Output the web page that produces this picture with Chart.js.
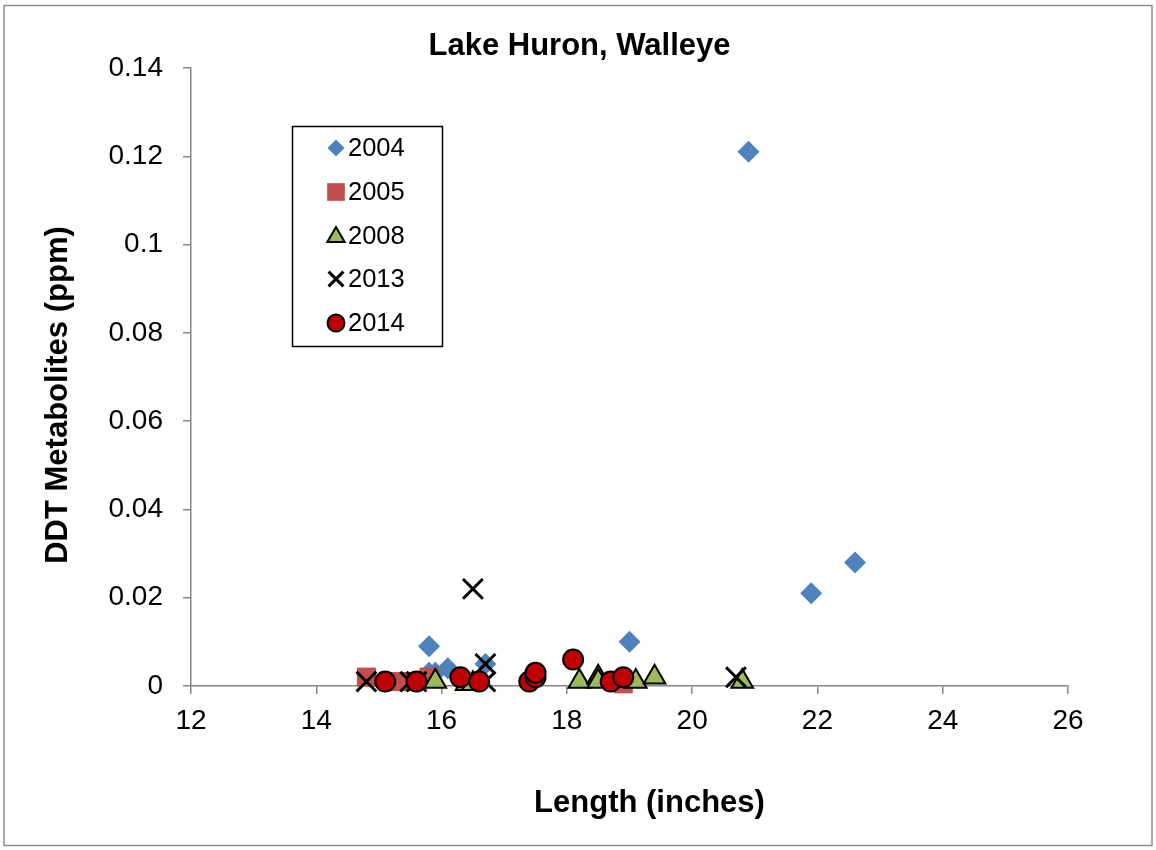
<!DOCTYPE html>
<html>
<head>
<meta charset="utf-8">
<script src="https://cdn.jsdelivr.net/npm/chart.js@4.4.1/dist/chart.umd.min.js"></script>
<style>
html,body{margin:0;padding:0;background:#fff;}
#wrap{width:1156px;height:850px;position:relative;}
</style>
</head>
<body>
<div id="wrap"><canvas id="c" width="1156" height="850"></canvas></div>
<script>
// ---- data ----
const seriesNames = ['2004', '2005', '2008', '2013', '2014'];
const x2004 = [15.8, 15.8, 15.9, 16.1, 16.7, 19.0, 20.9, 21.9, 22.6];
const y2004 = [0.009, 0.003, 0.003, 0.004, 0.005, 0.010, 0.121, 0.021, 0.028];
const x2005 = [14.8, 15.3, 15.5, 15.8, 18.9];
const y2005 = [0.002, 0.001, 0.001, 0.002, 0.0005];
const x2008 = [15.9, 16.4, 16.5, 18.2, 18.5, 18.5, 19.1, 19.4, 20.8];
const y2008 = [0.001, 0.0005, 0.0005, 0.001, 0.002, 0.001, 0.001, 0.002, 0.001];
const x2013 = [14.8, 15.5, 15.6, 16.5, 16.7, 16.7, 20.7];
const y2013 = [0.001, 0.001, 0.001, 0.022, 0.005, 0.001, 0.002];
const x2014 = [15.1, 15.6, 16.3, 16.6, 17.4, 17.5, 17.5, 18.1, 18.7, 18.9];
const y2014 = [0.001, 0.001, 0.002, 0.001, 0.001, 0.002, 0.003, 0.006, 0.001, 0.002];
const xTickLabels = ['12', '14', '16', '18', '20', '22', '24', '26'];
const yTickLabels = ['0', '0.02', '0.04', '0.06', '0.08', '0.1', '0.12', '0.14'];
const chartTitle = 'Lake Huron, Walleye';
const xTitle = 'Length (inches)';
const yTitle = 'DDT Metabolites (ppm)';

const pts = (xs, ys) => xs.map((x, i) => ({x: x, y: ys[i]}));
const FONT = "'Liberation Sans', Arial, sans-serif";

const styles = [
  {pointStyle: 'rectRot', radius: 11, bg: '#4F81BD', border: '#4F81BD', bw: 0},
  {pointStyle: 'rect', radius: 13.5, bg: '#C0504D', border: '#C0504D', bw: 0},
  {pointStyle: 'triangle', radius: 12.5, bg: '#9BBB59', border: '#000000', bw: 2},
  {pointStyle: 'crossRot', radius: 14, bg: '#000000', border: '#000000', bw: 3},
  {pointStyle: 'circle', radius: 10, bg: '#C00000', border: '#000000', bw: 2}
];
const dataSets = [pts(x2004, y2004), pts(x2005, y2005), pts(x2008, y2008), pts(x2013, y2013), pts(x2014, y2014)];

const datasets = dataSets.map((d, i) => ({
  label: seriesNames[i],
  data: d,
  order: 5 - i,
  clip: false,
  pointStyle: styles[i].pointStyle,
  pointRadius: styles[i].radius,
  pointHoverRadius: styles[i].radius,
  backgroundColor: styles[i].bg,
  borderColor: styles[i].border,
  pointBorderWidth: styles[i].bw,
  borderWidth: styles[i].bw,
  showLine: false
}));

const framePlugin = {
  id: 'frame',
  beforeDraw(chart) {
    const ctx = chart.ctx;
    ctx.save();
    ctx.fillStyle = '#ffffff';
    ctx.fillRect(0, 0, chart.width, chart.height);
    ctx.strokeStyle = '#8c8c8c';
    ctx.lineWidth = 1.5;
    ctx.strokeRect(4, 5.5, 1148, 840);
    ctx.restore();
  }
};

// chart title and axis titles placed like the original (offset from the plot centre)
const titlesPlugin = {
  id: 'titles',
  afterDraw(chart) {
    const ctx = chart.ctx;
    ctx.save();
    ctx.fillStyle = '#000000';
    ctx.textAlign = 'center';
    ctx.textBaseline = 'alphabetic';
    ctx.font = 'bold 31px ' + FONT;
    ctx.fillText(chartTitle, 579.5, 55);
    ctx.fillText(xTitle, 649.5, 812);
    ctx.translate(67, 395);
    ctx.rotate(-Math.PI / 2);
    ctx.fillText(yTitle, 0, 0);
    ctx.restore();
  }
};

const legendPlugin = {
  id: 'customLegend',
  afterDraw(chart) {
    const ctx = chart.ctx;
    const x0 = 292.5, y0 = 126.5, w = 150, h = 220;
    ctx.save();
    ctx.fillStyle = '#ffffff';
    ctx.fillRect(x0, y0, w, h);
    ctx.strokeStyle = '#000000';
    ctx.lineWidth = 1.5;
    ctx.strokeRect(x0, y0, w, h);
    const rows = [148, 192, 236, 279, 323];
    const legendR = [8.5, 12.5, 10, 10.5, 8.5];
    seriesNames.forEach((name, i) => {
      const s = styles[i];
      ctx.fillStyle = s.bg;
      ctx.strokeStyle = s.border;
      ctx.lineWidth = s.bw;
      Chart.helpers.drawPoint(ctx, {pointStyle: s.pointStyle, radius: legendR[i], borderWidth: s.bw}, 336, rows[i] + (i === 2 ? 1 : 0));
      ctx.fillStyle = '#000000';
      ctx.font = '25.5px ' + FONT;
      ctx.textAlign = 'left';
      ctx.textBaseline = 'middle';
      ctx.fillText(name, 348, rows[i] + 1);
    });
    ctx.restore();
  }
};

new Chart(document.getElementById('c'), {
  type: 'scatter',
  data: {datasets: datasets},
  plugins: [framePlugin, titlesPlugin, legendPlugin],
  options: {
    responsive: false,
    animation: false,
    devicePixelRatio: 1,
    layout: {padding: {left: 0, right: 88, top: 68, bottom: 0}},
    plugins: {
      legend: {display: false},
      tooltip: {enabled: false},
      title: {display: false, text: chartTitle}
    },
    scales: {
      x: {
        type: 'linear',
        min: 12, max: 26,
        afterBuildTicks(scale) {
          scale.ticks = xTickLabels.map(v => ({value: parseFloat(v)}));
        },
        ticks: {
          color: '#000000',
          font: {family: FONT, size: 28},
          padding: 10,
          maxRotation: 0,
          callback: (v, i) => xTickLabels[i]
        },
        grid: {drawOnChartArea: false, drawTicks: true, tickLength: 8, color: '#868686', lineWidth: 1.5},
        border: {display: true, color: '#868686', width: 1.5},
        title: {display: false, text: xTitle},
        afterFit(scale) { scale.height = 850 - 686; }
      },
      y: {
        type: 'linear',
        min: 0, max: 0.14,
        afterBuildTicks(scale) {
          scale.ticks = yTickLabels.map(v => ({value: parseFloat(v)}));
        },
        ticks: {
          color: '#000000',
          font: {family: FONT, size: 28},
          padding: 20,
          callback: (v, i) => yTickLabels[i]
        },
        grid: {drawOnChartArea: false, drawTicks: true, tickLength: 8, color: '#868686', lineWidth: 1.5},
        border: {display: true, color: '#868686', width: 1.5},
        title: {display: false, text: yTitle},
        afterFit(scale) { scale.width = 191; }
      }
    }
  }
});
</script>
</body>
</html>
